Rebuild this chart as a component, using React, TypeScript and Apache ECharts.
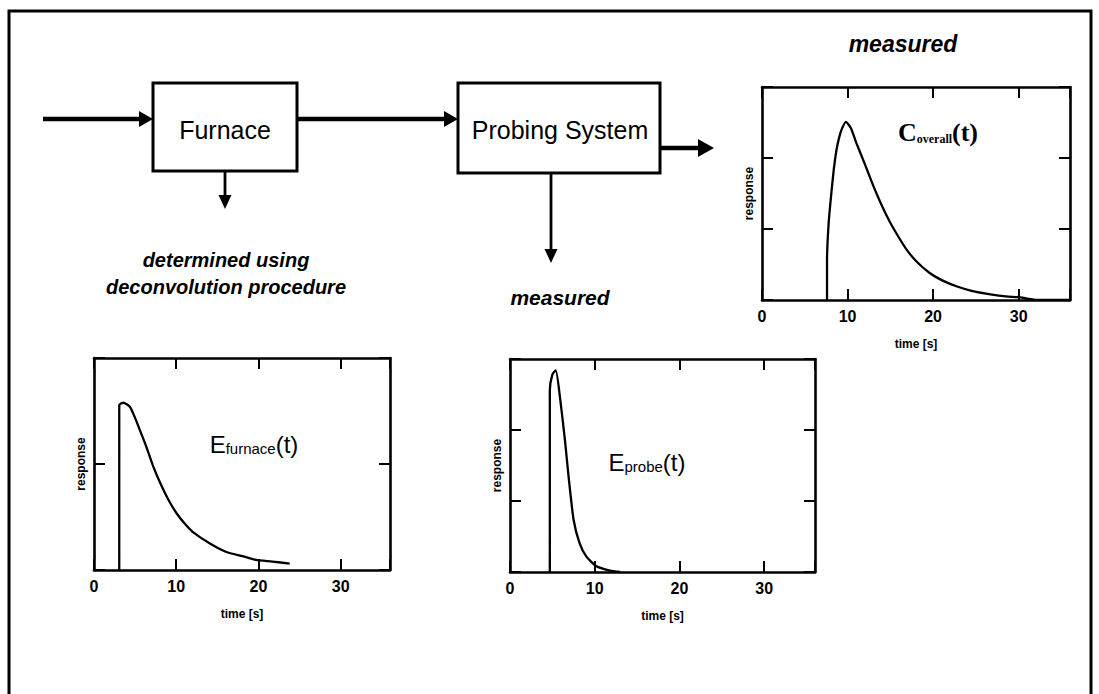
import React, { useEffect, useRef } from "react";
import * as echarts from "echarts";

// ---- data ----
const overallTime = [7.6, 7.6, 7.8, 8.1, 8.4, 8.7, 9.0, 9.3, 9.8, 10.4, 11.0, 12.0, 13.0, 14.0, 14.9, 16.0, 16.9, 18.0, 19.6, 21.0, 22.8, 24.5, 26.7, 28.5, 30.0, 31.0, 32.4, 36];
const overallResp = [0, 0.56, 1.1, 1.5, 1.85, 2.11, 2.28, 2.4, 2.51, 2.42, 2.22, 1.92, 1.61, 1.33, 1.11, 0.88, 0.71, 0.55, 0.38, 0.28, 0.19, 0.13, 0.08, 0.05, 0.04, 0.02, 0.0, 0.0];

const furnaceTime = [3.07, 3.07, 3.56, 4.36, 4.97, 5.58, 6.38, 7.19, 8.0, 9.0, 10.0, 11.0, 12.0, 14.1, 16.1, 18.1, 19.7, 21.7, 23.8];
const furnaceResp = [0, 1.556, 1.578, 1.54, 1.44, 1.32, 1.16, 0.98, 0.83, 0.67, 0.54, 0.44, 0.36, 0.25, 0.17, 0.13, 0.095, 0.08, 0.06];

const probeTime = [4.7, 4.7, 5.0, 5.4, 5.9, 6.5, 6.9, 7.5, 8.2, 9.0, 10.2, 11.8, 13.0];
const probeResp = [0, 2.56, 2.78, 2.84, 2.46, 1.84, 1.36, 0.74, 0.41, 0.22, 0.08, 0.02, 0.0];

const xTickLabels = ["0", "10", "20", "30"];
const xMax = 36;
const xInterval = 10;
const yMaxOverall = 3;
const yMaxFurnace = 2;
const yMaxProbe = 3;
const xAxisTitle = "time [s]";
const yAxisTitle = "response";

const SANS = '"Liberation Sans", Arial, Helvetica, sans-serif';
const SERIF = '"Liberation Serif", "Times New Roman", serif';

function pairs(t: number[], v: number[]) {
  return t.map((x, i) => [x, v[i]]);
}

export default function App() {
  const ref = useRef<HTMLDivElement>(null);

  useEffect(() => {
    if (!ref.current) return;
    const chart = echarts.init(ref.current, undefined, { renderer: "svg" });

    const grids = [
      { left: 762, top: 87, width: 308, height: 213, yMax: yMaxOverall },
      { left: 94, top: 358, width: 296, height: 212, yMax: yMaxFurnace },
      { left: 510, top: 359, width: 305, height: 213, yMax: yMaxProbe },
    ];

    const axisLine = { show: true, onZero: false, lineStyle: { color: "#000", width: 2.6 } };
    const tick = { show: true, inside: true, length: 11, lineStyle: { color: "#000", width: 2 } };

    const xAxes: any[] = [];
    const yAxes: any[] = [];
    grids.forEach((g, i) => {
      xAxes.push({
        type: "value", gridIndex: i, position: "bottom", min: 0, max: xMax, interval: xInterval,
        axisLine, axisTick: tick, splitLine: { show: false },
        axisLabel: {
          margin: 8, color: "#000", fontSize: 16, fontWeight: "bold", fontFamily: SANS,
          formatter: (v: number) => (xTickLabels.includes(String(v)) ? String(v) : ""),
        },
        name: xAxisTitle, nameLocation: "middle", nameGap: 38,
        nameTextStyle: { color: "#000", fontSize: 12, fontWeight: "bold", fontFamily: SANS },
      });
      xAxes.push({
        type: "value", gridIndex: i, position: "top", min: 0, max: xMax, interval: xInterval,
        axisLine, axisTick: tick, splitLine: { show: false }, axisLabel: { show: false },
      });
      yAxes.push({
        type: "value", gridIndex: i, position: "left", min: 0, max: g.yMax, interval: 1,
        axisLine, axisTick: tick, splitLine: { show: false }, axisLabel: { show: false },
        name: yAxisTitle, nameLocation: "middle", nameGap: 7,
        nameTextStyle: { color: "#000", fontSize: 12, fontWeight: "bold", fontFamily: SANS },
      });
      yAxes.push({
        type: "value", gridIndex: i, position: "right", min: 0, max: g.yMax, interval: 1,
        axisLine, axisTick: tick, splitLine: { show: false }, axisLabel: { show: false },
      });
    });

    const lineSeries = (idx: number, data: number[][]) => ({
      type: "line",
      xAxisIndex: idx * 2,
      yAxisIndex: idx * 2,
      data,
      showSymbol: false,
      smooth: 0.2,
      lineStyle: { color: "#000", width: 2.3 },
      silent: true,
    });

    const stroke = { stroke: "#000", lineWidth: 3, fill: "none" };
    const headR = (x: number, y: number, len: number, half: number) => ({
      type: "polygon", shape: { points: [[x - len, y - half], [x, y], [x - len, y + half]] }, style: { fill: "#000" },
    });
    const headD = (x: number, y: number, len: number, half: number) => ({
      type: "polygon", shape: { points: [[x - half, y - len], [x, y], [x + half, y - len]] }, style: { fill: "#000" },
    });
    const txt = (x: number, y: number, text: string, font: string) => ({
      type: "text", x, y,
      style: { text, font, fill: "#000", textAlign: "center", textVerticalAlign: "middle" },
    });

    const graphic: any[] = [
      { type: "rect", shape: { x: 9, y: 11, width: 1082, height: 720 }, style: { stroke: "#000", lineWidth: 3, fill: "none" } },
      // boxes
      { type: "rect", shape: { x: 153, y: 83, width: 144, height: 88 }, style: stroke },
      { type: "rect", shape: { x: 458, y: 83, width: 202, height: 90 }, style: stroke },
      txt(225, 130, "Furnace", `25px ${SANS}`),
      txt(560, 130, "Probing System", `25px ${SANS}`),
      // arrows
      { type: "line", shape: { x1: 43, y1: 119, x2: 141, y2: 119 }, style: { stroke: "#000", lineWidth: 4.5 } },
      headR(153, 119, 14, 8),
      { type: "line", shape: { x1: 297, y1: 119, x2: 445, y2: 119 }, style: { stroke: "#000", lineWidth: 4.5 } },
      headR(458, 119, 14, 8),
      { type: "line", shape: { x1: 660, y1: 148, x2: 699, y2: 148 }, style: { stroke: "#000", lineWidth: 4.5 } },
      headR(714, 148, 16, 9),
      { type: "line", shape: { x1: 225, y1: 171, x2: 225, y2: 197 }, style: { stroke: "#000", lineWidth: 2.8 } },
      headD(225, 209, 14, 6.5),
      { type: "line", shape: { x1: 551, y1: 173, x2: 551, y2: 251 }, style: { stroke: "#000", lineWidth: 2.8 } },
      headD(551, 263, 14, 6.5),
      // annotations
      txt(226, 260, "determined using", `italic bold 20px ${SANS}`),
      txt(226, 287, "deconvolution procedure", `italic bold 20px ${SANS}`),
      txt(560, 297, "measured", `italic bold 21px ${SANS}`),
      txt(903, 44, "measured", `italic bold 23px ${SANS}`),
      // curve labels
      {
        type: "text", x: 938, y: 131,
        style: {
          text: "{m|C}{s|overall}{m|(t)}",
          fill: "#000", textAlign: "center", textVerticalAlign: "middle",
          rich: {
            m: { fontFamily: SERIF, fontWeight: "bold", fontSize: 26, lineHeight: 28, verticalAlign: "bottom", fill: "#000" },
            s: { fontFamily: SERIF, fontWeight: "bold", fontSize: 12, lineHeight: 12, verticalAlign: "bottom", fill: "#000" },
          },
        },
      },
      {
        type: "text", x: 254, y: 443,
        style: {
          text: "{m|E}{s|furnace}{m|(t)}",
          fill: "#000", textAlign: "center", textVerticalAlign: "middle",
          rich: {
            m: { fontFamily: SANS, fontSize: 24, lineHeight: 26, verticalAlign: "bottom", fill: "#000" },
            s: { fontFamily: SANS, fontSize: 15, lineHeight: 15, verticalAlign: "bottom", fill: "#000" },
          },
        },
      },
      {
        type: "text", x: 647, y: 461,
        style: {
          text: "{m|E}{s|probe}{m|(t)}",
          fill: "#000", textAlign: "center", textVerticalAlign: "middle",
          rich: {
            m: { fontFamily: SANS, fontSize: 24, lineHeight: 26, verticalAlign: "bottom", fill: "#000" },
            s: { fontFamily: SANS, fontSize: 15, lineHeight: 15, verticalAlign: "bottom", fill: "#000" },
          },
        },
      },
    ];

    chart.setOption({
      animation: false,
      backgroundColor: "#fff",
      grid: grids.map((g) => ({ left: g.left, top: g.top, width: g.width, height: g.height, containLabel: false })),
      xAxis: xAxes,
      yAxis: yAxes,
      series: [
        lineSeries(0, pairs(overallTime, overallResp)),
        lineSeries(1, pairs(furnaceTime, furnaceResp)),
        lineSeries(2, pairs(probeTime, probeResp)),
      ],
      graphic,
    });

    return () => chart.dispose();
  }, []);

  return (
    <div
      ref={ref}
      style={{ position: "absolute", left: 0, top: 0, width: 1099, height: 694 }}
    />
  );
}
